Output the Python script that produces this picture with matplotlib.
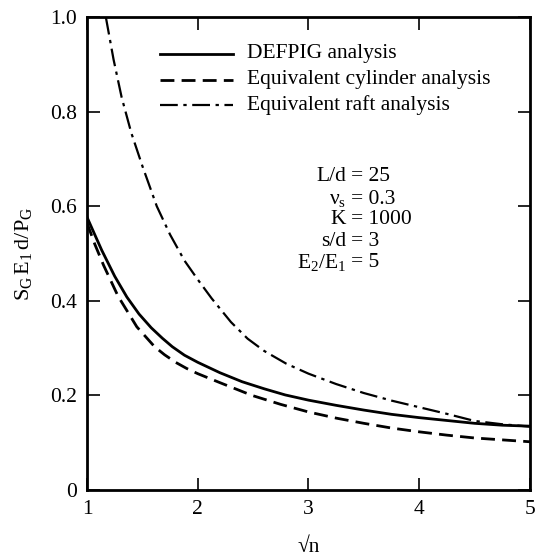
import numpy as np
import matplotlib
matplotlib.use("Agg")
import matplotlib.pyplot as plt

plt.rcParams['font.family'] = ['Liberation Serif', 'DejaVu Serif']
plt.rcParams['mathtext.fontset'] = 'custom'
plt.rcParams['mathtext.rm'] = 'Liberation Serif'
plt.rcParams['mathtext.it'] = 'Liberation Serif:italic'

# values
x_defpig = [1.0, 1.07, 1.133, 1.25, 1.36, 1.47, 1.58, 1.68, 1.77, 1.88, 2.0, 2.2, 2.4,
            2.6, 2.79, 3.0, 3.25, 3.5, 3.75, 4.0, 4.25, 4.5, 4.75, 5.0]
y_defpig = [0.577, 0.54, 0.507, 0.452, 0.408, 0.372, 0.343, 0.321, 0.303, 0.285, 0.27, 0.248, 0.229,
            0.214, 0.201, 0.190, 0.179, 0.169, 0.160, 0.153, 0.147, 0.141, 0.137, 0.135]

x_cyl = [1.0, 1.07, 1.15, 1.28, 1.45, 1.61, 1.7, 1.8, 1.9, 2.0, 2.2, 2.49, 2.75, 3.0,
         3.25, 3.5, 3.75, 4.0, 4.25, 4.5, 4.75, 5.0]
y_cyl = [0.565, 0.52, 0.475, 0.41, 0.345, 0.303, 0.286, 0.27, 0.257, 0.246, 0.227, 0.200, 0.181, 0.165,
         0.152, 0.141, 0.131, 0.123, 0.116, 0.110, 0.106, 0.102]

x_raft = [1.17, 1.24, 1.313, 1.40, 1.50, 1.63, 1.75, 1.88, 2.0, 2.126, 2.3, 2.45, 2.6, 2.8,
          3.0, 3.25, 3.5, 3.75, 4.0, 4.25, 4.5, 4.75, 5.0]
y_raft = [1.0, 0.91, 0.83, 0.755, 0.685, 0.60, 0.54, 0.485, 0.445, 0.405, 0.355, 0.32, 0.294, 0.267,
          0.246, 0.224, 0.205, 0.189, 0.175, 0.161, 0.146, 0.139, 0.134]

labels = ['DEFPIG analysis', 'Equivalent cylinder analysis', 'Equivalent raft analysis']
params = ['L/d', r'$\mathrm{\nu_s}$', 'K', 's/d', r'$\mathrm{E_2/E_1}$']
param_vals = ['= 25', '= 0.3', '= 1000', '= 3', '= 5']

fs = 15.5
solid = dict(lw=2.0, ls='-')
dashed = dict(lw=2.0, ls=(0, (5, 2.6)))
dashdot = dict(lw=1.6, ls=(0, (8, 2.5, 1.5, 2.5)))

fig = plt.figure(figsize=(5.36, 5.59), dpi=100)
ax = fig.add_axes([0.1623, 0.1234, 0.8265, 0.8462])

ax.plot(x_defpig, y_defpig, color='black', **solid)
ax.plot(x_cyl, y_cyl, color='black', **dashed)
ax.plot(x_raft, y_raft, color='black', **dashdot)

ax.set_xlim(1, 5)
ax.set_ylim(0, 1.0)
ax.set_xticks([1, 2, 3, 4, 5])
ax.set_yticks([0, 0.2, 0.4, 0.6, 0.8, 1.0])
ax.set_yticklabels(['0', '0.2', '0.4', '0.6', '0.8', '1.0'])
ax.tick_params(direction='in', length=9, width=1.2, labelsize=fs, pad=7,
               top=True, right=True)
for s in ax.spines.values():
    s.set_linewidth(2)

ax.set_xlabel('√n', fontsize=fs, labelpad=14)
ax.set_ylabel(r'$\mathrm{S_G\,E_1\,d/P_G}$', fontsize=16, labelpad=12)

# legend drawn by hand to match layout
leg_y = [0.922, 0.867, 0.814]
for yy, lab, st in zip(leg_y, labels, [solid, dashed, dashdot]):
    ax.plot([0.165, 0.33], [yy, yy], transform=ax.transAxes, color='black', **st)
    ax.text(0.361, yy, lab, transform=ax.transAxes, fontsize=fs, va='center')

p_y = [0.662, 0.615, 0.571, 0.526, 0.480]
for yy, p, v in zip(p_y, params, param_vals):
    ax.text(0.585, yy, p, transform=ax.transAxes, fontsize=fs, va='center', ha='right')
    ax.text(0.595, yy, v, transform=ax.transAxes, fontsize=fs, va='center', ha='left')

fig.savefig('out.png', dpi=100)
